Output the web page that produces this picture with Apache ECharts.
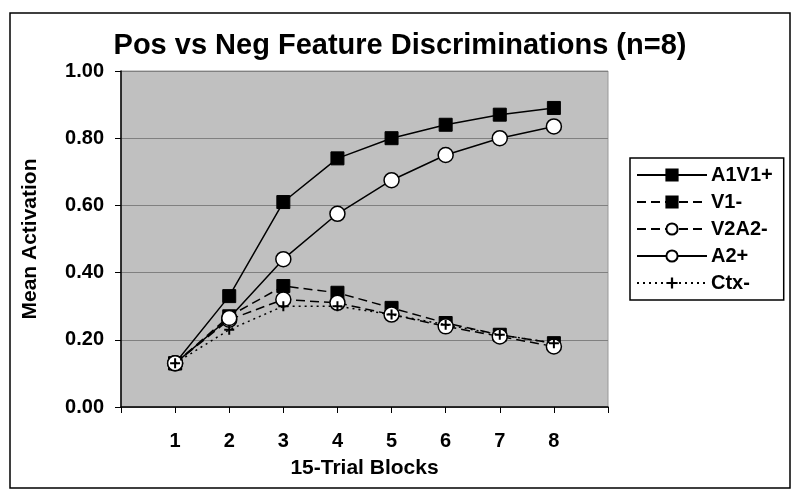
<!DOCTYPE html>
<html><head><meta charset="utf-8">
<script src="https://cdn.jsdelivr.net/npm/echarts@6/dist/echarts.min.js"></script>
<style>html,body{margin:0;padding:0;background:#fff}#c{width:800px;height:501px}</style>
</head><body><div id="c"></div>
<script>
const blocks = [1, 2, 3, 4, 5, 6, 7, 8];
const seriesNames = ['A1V1+', 'V1-', 'V2A2-', 'A2+', 'Ctx-'];
const a1v1Plus = [0.13, 0.33, 0.61, 0.74, 0.80, 0.84, 0.87, 0.89];
const v1Minus  = [0.13, 0.27, 0.36, 0.34, 0.295, 0.25, 0.215, 0.19];
const v2a2Minus= [0.13, 0.26, 0.32, 0.31, 0.275, 0.24, 0.21, 0.18];
const a2Plus   = [0.13, 0.265, 0.44, 0.575, 0.675, 0.75, 0.80, 0.835];
const ctxMinus = [0.13, 0.23, 0.30, 0.30, 0.275, 0.245, 0.215, 0.19];
const yTicks = [0, 0.2, 0.4, 0.6, 0.8, 1.0];

const font = 'Liberation Sans, Arial, sans-serif';
const plus = 'path://M4,0H6V4H10V6H6V10H4V6H0V4H4Z';
function pts(arr){ return arr.map((v,i)=>[blocks[i], v]); }
const sq = {symbol:'rect', symbolSize:13, itemStyle:{color:'#000', borderColor:'#000', borderWidth:1}};
const ci = {symbol:'circle', symbolSize:15, itemStyle:{color:'#fff', borderColor:'#000', borderWidth:1.5}};
const chart = echarts.init(document.getElementById('c'));
chart.setOption({
  animation:false,
  backgroundColor:'#fff',
  title:{text:'Pos vs Neg Feature Discriminations (n=8)', left:'center', top:26,
    textStyle:{fontFamily:font, fontWeight:'bold', fontSize:29, color:'#000'}},
  graphic:[{type:'rect', shape:{x:10, y:13, width:780, height:475}, style:{fill:'none', stroke:'#000', lineWidth:1.5}, z:-1}],
  grid:{left:121, right:192, top:71, bottom:94, show:true, backgroundColor:'#c0c0c0', borderColor:'#999', borderWidth:1},
  legend:{orient:'vertical', left:630, top:158, itemWidth:70, itemHeight:14, itemGap:7,
    data:seriesNames, borderColor:'#000', borderWidth:1.5, padding:[7,11,7,6],
    textStyle:{fontFamily:font, fontWeight:'bold', fontSize:20, color:'#000', padding:[0,0,0,-1]}},
  xAxis:{type:'value', min:0, max:9, interval:1,
    name:'15-Trial Blocks', nameLocation:'middle', nameGap:51,
    nameTextStyle:{fontFamily:font, fontWeight:'bold', fontSize:21, color:'#000'},
    axisLine:{lineStyle:{color:'#000', width:1.5}},
    axisTick:{show:true, length:6, lineStyle:{color:'#000'}},
    splitLine:{show:false},
    axisLabel:{margin:24, fontFamily:font, fontWeight:'bold', fontSize:20, color:'#000',
      formatter:v=> (blocks.indexOf(v) >= 0 ? String(v) : '')}},
  yAxis:{type:'value', min:0, max:1, interval:0.2,
    name:'Mean Activation', nameLocation:'middle', nameGap:80,
    nameTextStyle:{fontFamily:font, fontWeight:'bold', fontSize:21, color:'#000'},
    axisLine:{show:true, lineStyle:{color:'#000', width:1.5}},
    axisTick:{show:true, length:6, lineStyle:{color:'#000'}},
    splitLine:{show:true, lineStyle:{color:'#808080', width:1}},
    axisLabel:{margin:17, fontFamily:font, fontWeight:'bold', fontSize:20, color:'#000',
      formatter:v=>v.toFixed(2)}},
  series:[
    Object.assign({name:seriesNames[0], type:'line', data:pts(a1v1Plus), lineStyle:{color:'#000', width:1.5, type:'solid'}, z:5}, sq),
    Object.assign({name:seriesNames[1], type:'line', data:pts(v1Minus), lineStyle:{color:'#000', width:1.5, type:[9,5]}, z:3}, sq),
    Object.assign({name:seriesNames[2], type:'line', data:pts(v2a2Minus), lineStyle:{color:'#000', width:1.5, type:[9,5]}, z:4}, ci),
    Object.assign({name:seriesNames[3], type:'line', data:pts(a2Plus), lineStyle:{color:'#000', width:1.5, type:'solid'}, z:5}, ci),
    {name:seriesNames[4], type:'line', data:pts(ctxMinus), symbol:plus, symbolSize:10,
      itemStyle:{color:'#000'}, lineStyle:{color:'#000', width:1.5, type:[2,4]}, z:6}
  ]
});
</script></body></html>
